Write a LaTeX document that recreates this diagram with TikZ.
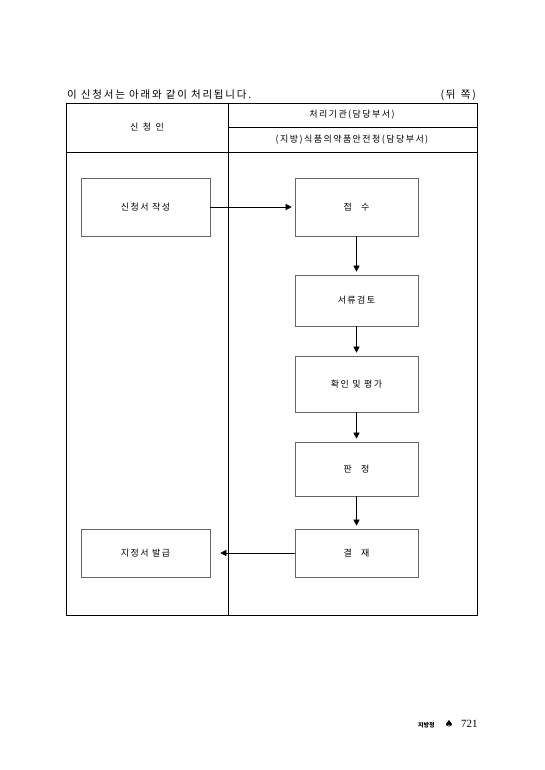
\documentclass[tikz,border=0pt]{standalone}
\usepackage{fontspec}
\setmainfont{Liberation Serif}
\newfontfamily\kr[LetterSpace=16]{Noto Sans CJK KR}
\newfontfamily\krt[LetterSpace=17]{Noto Sans CJK KR}
\newfontfamily\krb{Noto Sans CJK KR}
\usetikzlibrary{arrows.meta}
\begin{document}
\begin{tikzpicture}[x=1pt,y=-1pt,
  flowbox/.style={draw=black!60,line width=0.6pt,minimum width=123pt,inner sep=0pt,font=\kr\fontsize{9}{11}\selectfont},
  arr/.style={-{Triangle[length=6pt,width=6pt]},line width=0.5pt,shorten >=3pt},
  frame/.style={line width=0.8pt},
  lbl/.style={font=\kr\fontsize{9}{11}\selectfont,inner sep=0pt}]
\useasboundingbox (0,0) rectangle (544,770);
% title
\node[anchor=west,font=\krt\fontsize{10.5}{12}\selectfont,inner sep=0pt] (title) at (67,95) {이 신청서는 아래와 같이 처리됩니다.};
\node[anchor=east,font=\krt\fontsize{10.5}{12}\selectfont,inner sep=0pt] (side) at (476,95) {(뒤\enspace 쪽)};
% table
\draw[frame] (66,103) rectangle (477,615);
\draw[frame] (228,103) -- (228,615);
\draw[line width=0.5pt] (228,127) -- (477,127);
\draw[frame] (66,152) -- (477,152);
\node[lbl] (app) at (147,127) {신\enspace 청\enspace 인};
\node[lbl] (org) at (352,115) {처리기관(담당부서)};
\node[lbl] (kfda) at (352,140) {(지방)식품의약품안전청(담당부서)};
% boxes
\node[flowbox,minimum width=129pt,minimum height=58pt] (write) at (145.5,207) {신청서 작성};
\node[flowbox,minimum height=58pt] (recv) at (356.5,207) {접\quad 수};
\node[flowbox,minimum height=51pt] (review) at (356.5,300.5) {서류검토};
\node[flowbox,minimum height=56pt] (eval) at (356.5,384) {확인 및 평가};
\node[flowbox,minimum height=54pt] (judge) at (356.5,469) {판\quad 정};
\node[flowbox,minimum height=48pt] (approve) at (356.5,553) {결\quad 재};
\node[flowbox,minimum width=129pt,minimum height=48pt] (issue) at (145.5,553) {지정서 발급};
% arrows
\draw[arr] (write) -- (recv);
\draw[arr] (recv) -- (review);
\draw[arr] (review) -- (eval);
\draw[arr] (eval) -- (judge);
\draw[arr] (judge) -- (approve);
\draw[arr,shorten >=10pt] (approve) -- (issue);
% footer
\node[anchor=west,font=\krb\bfseries\fontsize{6}{7}\selectfont,inner sep=0pt] (dept) at (418,725) {지방청};
\node[font=\fontspec{DejaVu Sans}\fontsize{10}{11}\selectfont,inner sep=0pt] (spade) at (449,724) {♠};
\node[anchor=west,font=\fontsize{11}{12}\selectfont,inner sep=0pt] (page) at (461,724) {721};
\end{tikzpicture}
\end{document}
